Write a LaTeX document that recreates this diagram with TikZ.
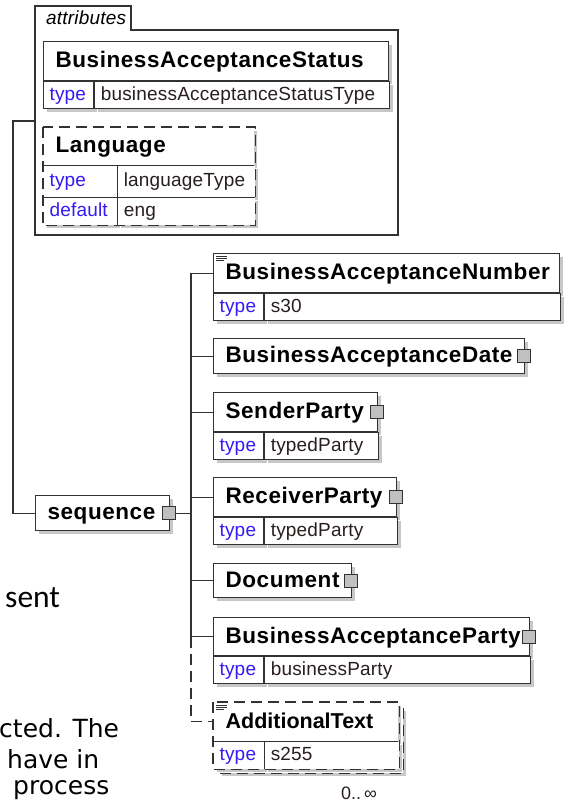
\documentclass[tikz,border=0pt]{standalone}
\usepackage{fontspec}
\setmainfont{Liberation Sans}
\newfontfamily\elfam{Liberation Sans}[LetterSpace=2.5]
\newfontfamily\propfam{Liberation Sans}[LetterSpace=1]
\newfontfamily\pagefont{DejaVu Sans}
\newfontfamily\notefont{Carlito}
\usetikzlibrary{shadows}
\definecolor{edgegray}{RGB}{50,50,50}
\definecolor{typeblue}{RGB}{55,25,245}
\definecolor{valtext}{RGB}{40,30,30}
\definecolor{btngray}{RGB}{192,192,192}
\newcommand\elfont{\elfam\bfseries\fontsize{22.5}{26}\selectfont}
\newcommand\propfont{\propfam\fontsize{19}{22}\selectfont}
\hyphenpenalty=10000
\tikzset{
  boxshadow/.style={drop shadow={shadow xshift=3pt, shadow yshift=-3pt, opacity=1, fill=black!22}},
  elname/.style={boxshadow, draw=edgegray, line width=1.2pt, fill=white, anchor=north west,
    inner xsep=12pt, inner ysep=0pt, align=left, font=\elfont, text height=17pt, text depth=4pt},
  propkey/.style={boxshadow, draw=edgegray, line width=1.2pt, fill=white, anchor=north west,
    inner xsep=6pt, inner ysep=0pt, align=left, font=\propfont, text=typeblue, minimum height=27pt,
    text height=14pt, text depth=4pt},
  propval/.style={propkey, text=valtext},
  nodraw/.style={draw=none},
  dashedge/.style={draw=edgegray, line width=1.2pt, dash pattern=on 11pt off 6pt},
  wire/.style={draw=edgegray, line width=1.2pt},
  expander/.style={draw=edgegray, line width=1pt, fill=btngray, minimum size=13pt, inner sep=0pt},
  docmark/.style={draw=edgegray, line width=0.8pt},
  pagetext/.style={anchor=base west, inner sep=0pt, font=\pagefont\fontsize{25}{30}\selectfont}
}
\begin{document}
\begin{tikzpicture}[x=1pt, y=-1pt]
  \useasboundingbox (0,0) rectangle (565,802);
  % text of the page behind
  \node[pagetext, font=\notefont\fontsize{31.5}{36}\selectfont] (sent) at (5,607) {sent};
  \node[pagetext] (cted) at (-1,737) {cted. The};
  \node[pagetext] (havein) at (7,768) {have in};
  \node[pagetext] (process) at (13,794) {process};

  % attributes
  \draw[wire] (35,235) -- (35,6) -- (131,6) -- (131,30) -- (398,30) -- (398,235) -- cycle;
  \node[anchor=base west, inner sep=0pt, font=\itshape\propfont] (attrtab) at (46,25) {attributes};

  \node[elname, text width=321pt, minimum height=39pt] (bas) at (43,41) {BusinessAcceptanceStatus};
  \node[propkey, text width=38pt] (bastk) at (bas.south west) {type};
  \node[propval, text width=283pt] (bastv) at (bastk.north east) {businessAcceptanceStatusType};

  \node[elname, nodraw, text width=186pt, minimum height=37pt] (lang) at (43,127) {Language};
  \node[propkey, nodraw, text width=61pt, minimum height=31pt] (langtk) at (lang.south west) {type};
  \node[propval, nodraw, text width=125pt, minimum height=31pt] (langtv) at (langtk.north east) {languageType};
  \node[propkey, nodraw, text width=61pt] (langdk) at (langtk.south west) {default};
  \node[propval, nodraw, text width=125pt] (langdv) at (langdk.north east) {eng};
  \draw[dashedge] (lang.north west) rectangle (langdv.south east);
  \draw[wire] (lang.south west) -- (lang.south east);
  \draw[wire] (langtk.south west) -- (langtv.south east);
  \draw[wire] (langtk.north east) -- (langdk.south east);

  % sequence
  \node[elname, text width=110pt, minimum height=35pt] (seq) at (35,495) {sequence};
  \node[expander] (seqbtn) at ([xshift=-1pt]seq.east) {};

  % children
  \node[elname, text width=322pt, minimum height=39pt] (ban) at (213,253) {BusinessAcceptanceNumber};
  \node[propkey, text width=38pt] (bantk) at (ban.south west) {type};
  \node[propval, text width=284pt] (bantv) at (bantk.north east) {s30};
  \draw[docmark] ([shift={(3pt,-3pt)}]ban.north west) -- ++(11,0)
    ([shift={(3pt,-5pt)}]ban.north west) -- ++(11,0)
    ([shift={(3pt,-7pt)}]ban.north west) -- ++(8,0);

  \node[elname, text width=287pt, minimum height=35pt] (bad) at (213,338) {BusinessAcceptanceDate};
  \node[expander] (badbtn) at ([xshift=-1pt]bad.east) {};

  \node[elname, text width=140pt, minimum height=39pt] (sp) at (213,392) {SenderParty};
  \node[propkey, text width=38pt] (sptk) at (sp.south west) {type};
  \node[propval, text width=102pt] (sptv) at (sptk.north east) {typedParty};
  \node[expander] (spbtn) at ([xshift=-1pt]sp.east) {};

  \node[elname, text width=159pt, minimum height=39pt] (rp) at (213,477) {ReceiverParty};
  \node[propkey, text width=38pt] (rptk) at (rp.south west) {type};
  \node[propval, text width=121pt] (rptv) at (rptk.north east) {typedParty};
  \node[expander] (rpbtn) at ([xshift=-1pt]rp.east) {};

  \node[elname, text width=114pt, minimum height=34pt] (doc) at (213,563) {Document};
  \node[expander] (docbtn) at ([xshift=-1pt]doc.east) {};

  \node[elname, text width=292pt, minimum height=38pt] (bap) at (213,617) {BusinessAcceptanceParty};
  \node[propkey, text width=38pt] (baptk) at (bap.south west) {type};
  \node[propval, text width=254pt] (baptv) at (baptk.north east) {businessParty};
  \node[expander] (bapbtn) at ([xshift=-1pt]bap.east) {};

  \node[elname, nodraw, text width=160pt, minimum height=65pt] (atback) at (218,707) {};
  \draw[dashedge] (atback.north west) rectangle (atback.south east);
  \node[elname, nodraw, text width=160pt, minimum height=38pt,
    font=\bfseries\fontsize{21.5}{26}\selectfont] (at) at (213,702) {AdditionalText};
  \node[propkey, nodraw, text width=38pt] (attk) at (at.south west) {type};
  \node[propval, nodraw, text width=122pt] (attv) at (attk.north east) {s255};
  \draw[dashedge] (at.north west) rectangle (attv.south east);
  \draw[wire] (at.south west) -- (at.south east);
  \draw[wire] (attk.north east) -- (attk.south east);
  \draw[docmark] ([shift={(3pt,-3pt)}]at.north west) -- ++(11,0)
    ([shift={(3pt,-5pt)}]at.north west) -- ++(11,0)
    ([shift={(3pt,-7pt)}]at.north west) -- ++(8,0);
  \node[anchor=base west, inner sep=0pt, font=\fontsize{18}{20}\selectfont, text=valtext] (occurs) at (341,799) {0..\,∞};

  % connectors
  \coordinate (attrsw) at (35,121);
  \coordinate (rail) at (13,0);
  \coordinate (trunk) at (191,0);
  \draw[wire] (attrsw) -- (attrsw -| rail) |- (seq.west);
  \draw[wire] (seqbtn.east) -- (seqbtn.east -| trunk);
  \draw[wire] (ban.west -| trunk) -- (bap.west -| trunk);
  \draw[wire] (ban.west -| trunk) -- (ban.west);
  \draw[wire] (bad.west -| trunk) -- (bad.west);
  \draw[wire] (sp.west -| trunk) -- (sp.west);
  \draw[wire] (rp.west -| trunk) -- (rp.west);
  \draw[wire] (doc.west -| trunk) -- (doc.west);
  \draw[wire] (bap.west -| trunk) -- (bap.west);
  \draw[wire, dash pattern=on 11pt off 6pt] (bap.west -| trunk) |- (at.west);
\end{tikzpicture}
\end{document}
